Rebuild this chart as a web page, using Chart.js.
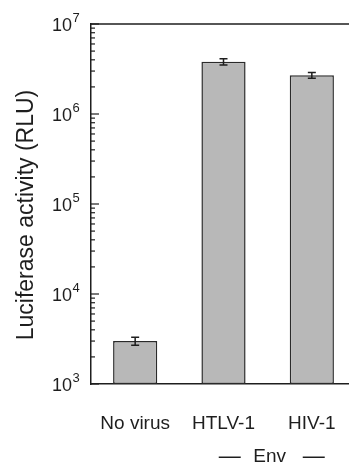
<!DOCTYPE html>
<html>
<head>
<meta charset="utf-8">
<script src="https://cdn.jsdelivr.net/npm/chart.js@4"></script>
<style>
    html, body { margin: 0; padding: 0; background: #fff; overflow: hidden; }
    #wrap { position: relative; width: 356px; height: 468px; }
</style>
</head>
<body>
<div id="wrap"><canvas id="chart"></canvas></div>
<script>
    // Data
    const categories = ['No virus', 'HTLV-1', 'HIV-1'];
    const luciferase = [3000, 3800000, 2700000];
    const errors = [300, 300000, 200000];
    const decades = [3, 4, 5, 6, 7];
    const groupLabel = 'Env';
    const yTitle = 'Luciferase activity (RLU)';

    const FONT = "'Liberation Sans', Arial, sans-serif";
    const INK = '#1e1e1e';

    // Draws error bars, inward ticks, top frame, y labels and titles
    const decorations = {
        id: 'decorations',
        afterDatasetsDraw(chart) {
            const ctx = chart.ctx;
            const area = chart.chartArea;
            const x = chart.scales.x;
            const y = chart.scales.y;
            const meta = chart.getDatasetMeta(0);
            ctx.save();

            // error bars
            ctx.strokeStyle = INK;
            ctx.lineWidth = 1.5;
            meta.data.forEach((bar, i) => {
                const top = y.getPixelForValue(luciferase[i] + errors[i]);
                const bot = y.getPixelForValue(luciferase[i] - errors[i]);
                ctx.beginPath();
                ctx.moveTo(bar.x, top); ctx.lineTo(bar.x, bot);
                ctx.moveTo(bar.x - 4, top); ctx.lineTo(bar.x + 4, top);
                ctx.moveTo(bar.x - 4, bot); ctx.lineTo(bar.x + 4, bot);
                ctx.stroke();
            });

            // top frame line
            ctx.beginPath();
            ctx.moveTo(area.left, area.top);
            ctx.lineTo(area.right, area.top);
            ctx.stroke();

            // inward ticks on the log axis
            ctx.lineWidth = 1.2;
            y.ticks.forEach(t => {
                const py = y.getPixelForValue(t.value);
                const len = t.major ? 8 : 4;
                ctx.beginPath();
                ctx.moveTo(area.left, py);
                ctx.lineTo(area.left + len, py);
                ctx.stroke();
            });

            // decade labels 10^n
            ctx.fillStyle = INK;
            decades.forEach(e => {
                const py = y.getPixelForValue(Math.pow(10, e));
                ctx.font = '18px ' + FONT;
                ctx.textAlign = 'right';
                ctx.textBaseline = 'alphabetic';
                ctx.fillText('10', 72, py + 7);
                ctx.font = '13px ' + FONT;
                ctx.textAlign = 'left';
                ctx.fillText(String(e), 72.5, py - 2);
            });

            // y title
            ctx.save();
            ctx.translate(33, 215);
            ctx.rotate(-Math.PI / 2);
            ctx.font = '23px ' + FONT;
            ctx.textAlign = 'center';
            ctx.textBaseline = 'alphabetic';
            ctx.fillText(yTitle, 0, 0);
            ctx.restore();

            // group label under HTLV-1 and HIV-1
            const cx = (x.getPixelForValue(1) + x.getPixelForValue(2)) / 2 + 2;
            ctx.textAlign = 'center';
            ctx.textBaseline = 'middle';
            ctx.font = '19px ' + FONT;
            ctx.fillText(groupLabel, cx, 457);
            ctx.font = '22px ' + FONT;
            ctx.fillText('\u2014', cx - 40, 457);
            ctx.fillText('\u2014', cx + 44, 457);

            ctx.restore();
        }
    };

    function init() {
        const canvas = document.getElementById('chart');
        new Chart(canvas.getContext('2d'), {
            type: 'bar',
            data: {
                labels: categories,
                datasets: [{
                    data: luciferase,
                    backgroundColor: '#b8b8b8',
                    borderColor: '#2a2a2a',
                    borderWidth: 1.5,
                    borderSkipped: false,
                    categoryPercentage: 1,
                    barPercentage: 0.5,
                }]
            },
            options: {
                responsive: true,
                maintainAspectRatio: false,
                animation: false,
                layout: { padding: { top: 24, left: 0, right: 0, bottom: 0 } },
                plugins: { legend: { display: false }, tooltip: { enabled: false } },
                scales: {
                    x: {
                        type: 'category',
                        offset: true,
                        grid: { display: false },
                        border: { display: true, color: INK, width: 1.5 },
                        ticks: {
                            color: INK,
                            font: { family: FONT, size: 19 },
                            padding: 20,
                            maxRotation: 0,
                            autoSkip: false,
                        },
                        afterFit: s => { s.height = 84; }
                    },
                    y: {
                        type: 'logarithmic',
                        min: 1000,
                        max: 1e7,
                        grid: { display: false },
                        border: { display: true, color: INK, width: 1.5 },
                        ticks: { display: false },
                        afterBuildTicks: s => {
                            const list = [];
                            decades.forEach(e => {
                                for (let m = 1; m <= 9; m++) {
                                    const v = m * Math.pow(10, e);
                                    if (v <= 1e7) list.push({ value: v, major: m === 1 });
                                }
                            });
                            s.ticks = list;
                        },
                        afterFit: s => { s.width = 91; }
                    }
                }
            },
            plugins: [decorations]
        });
    }

    document.addEventListener('DOMContentLoaded', init);
</script>
</body>
</html>
